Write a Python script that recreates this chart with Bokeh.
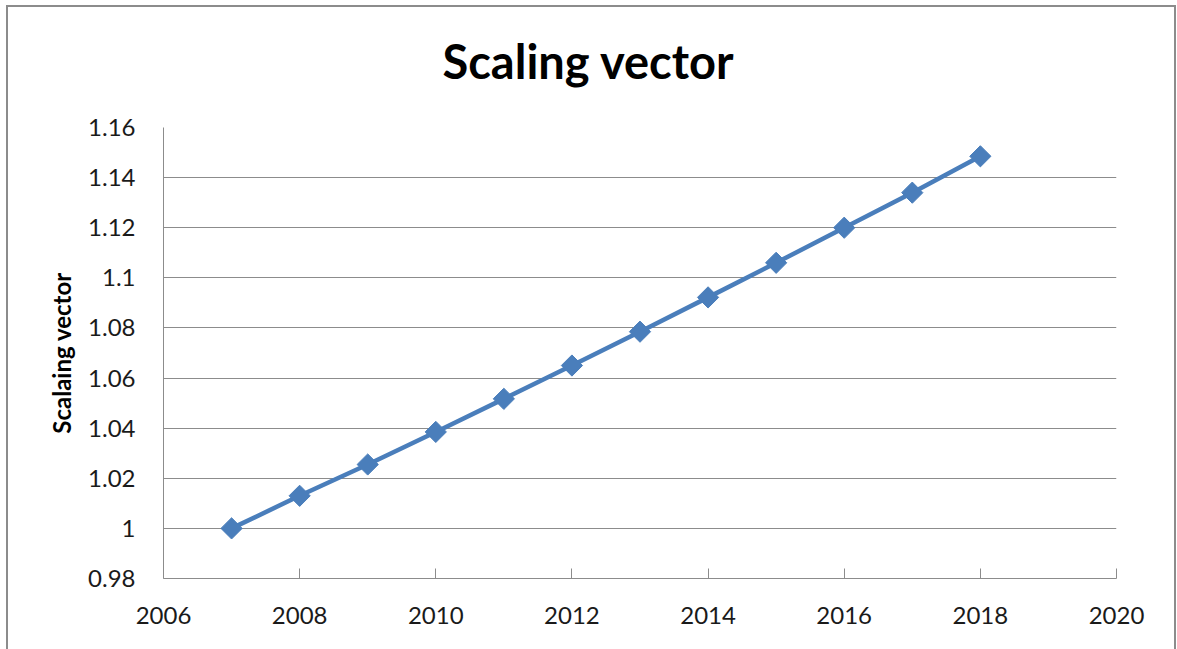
import math
from bokeh.plotting import figure
from bokeh.models import Range1d, FixedTicker, Title
from bokeh.embed import file_html
from bokeh.resources import INLINE

# Data
years = [2007, 2008, 2009, 2010, 2011, 2012, 2013, 2014, 2015, 2016, 2017, 2018]
scaling = [1.000, 1.013, 1.0255, 1.0385, 1.0517, 1.065, 1.0785, 1.0922, 1.106, 1.120, 1.134, 1.1485]
x_ticks = [2006, 2008, 2010, 2012, 2014, 2016, 2018, 2020]
y_ticks = [0.98, 1.00, 1.02, 1.04, 1.06, 1.08, 1.10, 1.12, 1.14, 1.16]
y_tick_labels = {0.98: "0.98", 1.0: "1", 1.02: "1.02", 1.04: "1.04", 1.06: "1.06",
                 1.08: "1.08", 1.1: "1.1", 1.12: "1.12", 1.14: "1.14", 1.16: "1.16"}
title_text = "Scaling vector"
y_label_text = "Scalaing vector"

FONT = "Lato"
GRID = "#8c8c8c"
BLUE = "#4a7ebb"

p = figure(width=1170, height=644, output_backend="svg", toolbar_location=None,
           x_range=Range1d(2006, 2020), y_range=Range1d(0.98, 1.16),
           min_border_left=155, min_border_right=62, min_border_top=119, min_border_bottom=73,
           title=title_text)

p.title.text_font = FONT
p.title.text_font_style = "bold"
p.title.text_font_size = "47px"
p.title.text_color = "#000000"
p.title.align = "left"
p.title.vertical_align = "top"
p.title.offset = 279
p.title.standoff = 50

# thin spacer between the title and the plot area
p.add_layout(Title(text=" ", text_font_size="1px", standoff=9), "above")

p.outline_line_color = None
p.background_fill_color = "white"
p.border_fill_color = "white"

p.xgrid.grid_line_color = None
p.ygrid.grid_line_color = GRID
p.ygrid.grid_line_width = 1
p.ygrid.ticker = FixedTicker(ticks=y_ticks)

p.xaxis.ticker = FixedTicker(ticks=x_ticks)
p.yaxis.ticker = FixedTicker(ticks=y_ticks)
p.yaxis.major_label_overrides = y_tick_labels

for ax in (p.xaxis[0], p.yaxis[0]):
    ax.axis_line_color = GRID
    ax.axis_line_width = 1
    ax.major_tick_line_color = GRID
    ax.minor_tick_line_color = None
    ax.major_label_text_font = FONT
    ax.major_label_text_font_size = "24px"
    ax.major_label_text_color = "#1a1a1a"

p.xaxis.major_tick_in = 10
p.xaxis.major_tick_out = 0
p.xaxis.major_label_standoff = 28
p.yaxis.major_tick_in = 0
p.yaxis.major_tick_out = 0
p.yaxis.major_label_standoff = 28

p.yaxis.axis_label = y_label_text
p.yaxis.axis_label_text_font = FONT
p.yaxis.axis_label_text_font_style = "bold"
p.yaxis.axis_label_text_font_size = "24px"
p.yaxis.axis_label_text_color = "#000000"
p.yaxis.axis_label_standoff = 9

p.line(years, scaling, line_color=BLUE, line_width=4.5)
p.scatter(years, scaling, marker="square", angle=math.pi / 4, size=15,
          fill_color=BLUE, line_color=BLUE)

p.styles = {"margin-left": "6px", "margin-top": "5px",
            "border-left": "2px solid #8c8c8c", "border-top": "2px solid #8c8c8c",
            "border-right": "2px solid #8c8c8c"}

open("out.html", "w").write(file_html(p, INLINE))
